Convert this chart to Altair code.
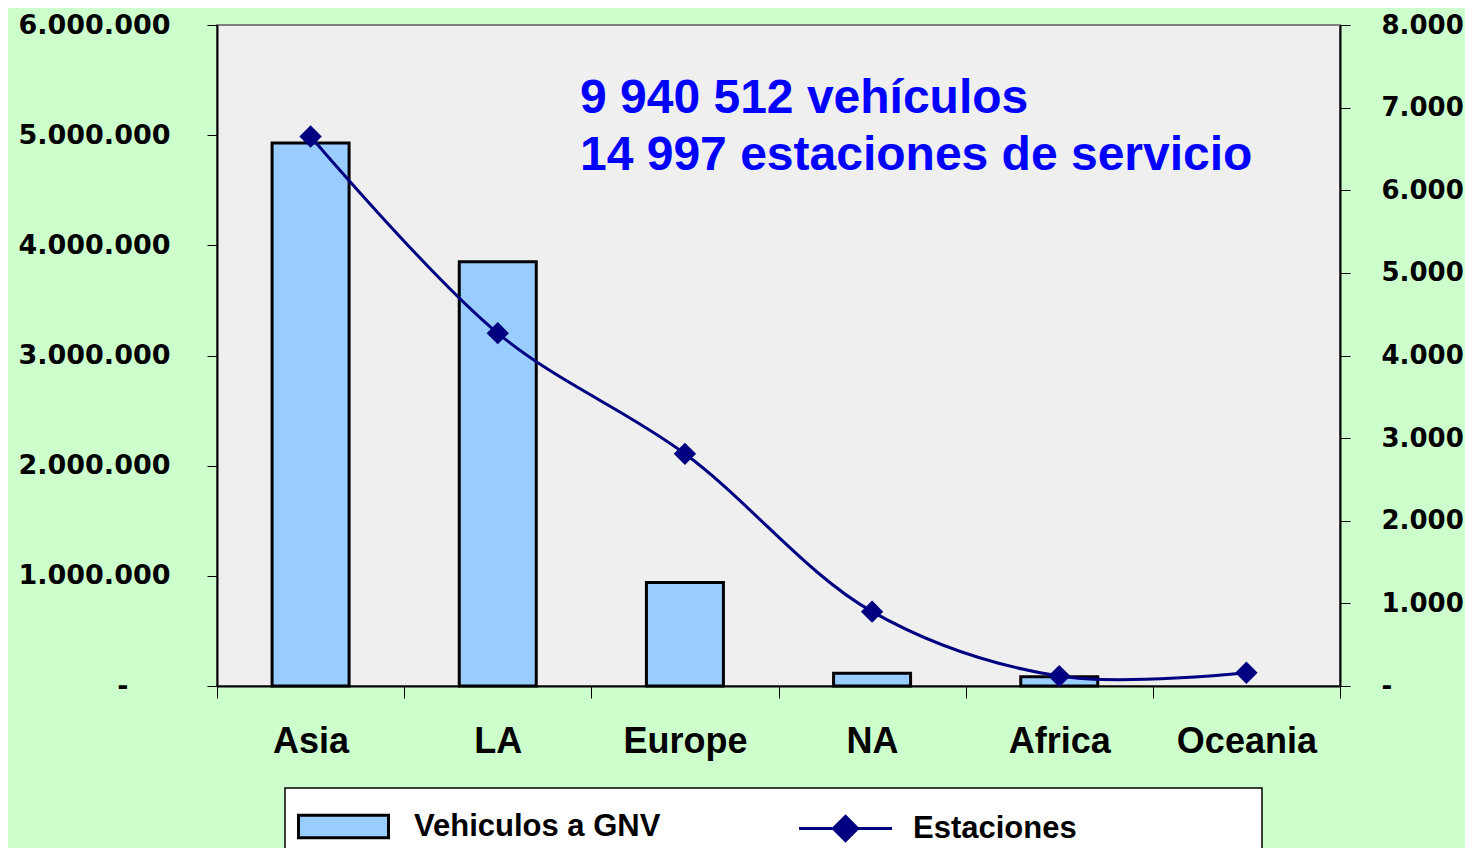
import altair as alt
import pandas as pd

regions = ["Asia", "LA", "Europe", "NA", "Africa", "Oceania"]
vehicles = [4930000, 3850000, 940000, 115000, 85000, 0]
stations = [6650, 4270, 2810, 900, 120, 160]
annotation_lines = ["9 940 512 vehículos", "14 997 estaciones de servicio"]
bar_series = "Vehiculos a GNV"
line_series = "Estaciones"

df = pd.DataFrame({
    "region": regions,
    "vehicles": vehicles,
    "stations": stations,
    "s1": bar_series,
    "s2": line_series,
})

W, H = 1123, 661
NAVY = "#000080"

x_enc = alt.X(
    "region:N", sort=regions,
    scale=alt.Scale(paddingInner=0, paddingOuter=0),
    axis=alt.Axis(
        title=None, labelAngle=0, tickBand="extent", tickSize=12,
        labelFont="Liberation Sans", labelFontSize=36, labelFontWeight="bold",
        labelColor="black", labelPadding=26, labelBaseline="top",
        domainColor="black", domainWidth=2, tickColor="black", tickWidth=1,
    ),
)

left_expr = ("datum.value == 0 ? '-' : "
             "replace(format(datum.value, ','), regexp(',', 'g'), '.')")
right_expr = ("datum.value == 0 ? '-' : "
              "replace(format(datum.value, ','), regexp(',', 'g'), '.')")

bars = alt.Chart(df).transform_filter("datum.vehicles > 0").mark_bar(
    size=77, stroke="black", strokeWidth=3
).encode(
    x=x_enc,
    y=alt.Y(
        "vehicles:Q",
        scale=alt.Scale(domain=[0, 6000000], nice=False),
        axis=alt.Axis(
            title=None, orient="left", values=[0, 1000000, 2000000, 3000000, 4000000, 5000000, 6000000],
            labelExpr=left_expr, grid=False, tickSize=10, tickColor="black",
            domainColor="black", domainWidth=2,
            labelPadding=alt.condition("datum.value == 0", alt.value(79), alt.value(37)),
            labelFont="DejaVu Sans", labelFontSize=27, labelFontWeight="bold",
            labelColor="black", labelBaseline="middle",
        ),
    ),
    fill=alt.Fill(
        "s1:N", scale=alt.Scale(domain=[bar_series], range=["#99ccff"]),
        legend=alt.Legend(
            title=None, orient="none", legendX=80, legendY=755, padding=0,
            symbolType="M-1,-0.25H1V0.25H-1Z", symbolSize=8100,
            symbolStrokeColor="black", symbolStrokeWidth=3,
            labelFont="Liberation Sans", labelFontSize=31, labelFontWeight="bold",
            labelColor="black", labelOffset=24, labelLimit=0,
        ),
    ),
)

line = alt.Chart(df).mark_line(interpolate="catmull-rom", strokeWidth=3).encode(
    x=x_enc,
    y=alt.Y(
        "stations:Q",
        scale=alt.Scale(domain=[0, 8000], nice=False),
        axis=alt.Axis(
            title=None, orient="right", values=[0, 1000, 2000, 3000, 4000, 5000, 6000, 7000, 8000],
            labelExpr=right_expr, grid=False, tickSize=10, tickColor="black",
            domainColor="black", domainWidth=2, labelPadding=31,
            labelFont="DejaVu Sans", labelFontSize=26, labelFontWeight="bold",
            labelColor="black", labelBaseline="middle", labelAlign="left",
        ),
    ),
    stroke=alt.Stroke(
        "s2:N", scale=alt.Scale(domain=[line_series], range=[NAVY]),
        legend=alt.Legend(
            title=None, orient="none", legendX=580, legendY=755, padding=0,
            symbolType="M-1,0H1M0,-0.26L0.26,0L0,0.26L-0.26,0Z", symbolSize=8650,
            symbolStrokeWidth=3, symbolFillColor=NAVY,
            labelFont="Liberation Sans", labelFontSize=31, labelFontWeight="bold",
            labelColor="black", labelOffset=19, labelLimit=0,
        ),
    ),
)

points = alt.Chart(df).mark_point(shape="diamond", filled=True, size=500, color=NAVY, opacity=1).encode(
    x=x_enc,
    y=alt.Y("stations:Q"),
)

legend_box = alt.Chart(pd.DataFrame({"k": [0]})).mark_rect(
    fill="white", stroke="black", strokeWidth=1.5
).encode(
    x=alt.value(68), x2=alt.value(1045), y=alt.value(763), y2=alt.value(900)
)

note = alt.Chart(pd.DataFrame({"t": ["\n".join(annotation_lines)]})).mark_text(
    align="left", baseline="alphabetic", lineBreak="\n", lineHeight=57,
    font="Liberation Sans", fontSize=48, fontWeight="bold", color="#0000ff",
).encode(text="t:N", x=alt.value(363), y=alt.value(88))

chart = alt.layer(
    bars, alt.layer(line, points), legend_box, note
).resolve_scale(y="independent").properties(
    width=W, height=H,
    background="#ccffcc",
    padding={"left": 209, "top": 17, "right": 125, "bottom": 162},
    autosize=alt.AutoSizeParams(type="none"),
).configure_view(
    fill="#efefef", stroke="#808080", strokeWidth=2,
)

chart.save("out.html", embed_options={"renderer": "svg", "actions": False})
